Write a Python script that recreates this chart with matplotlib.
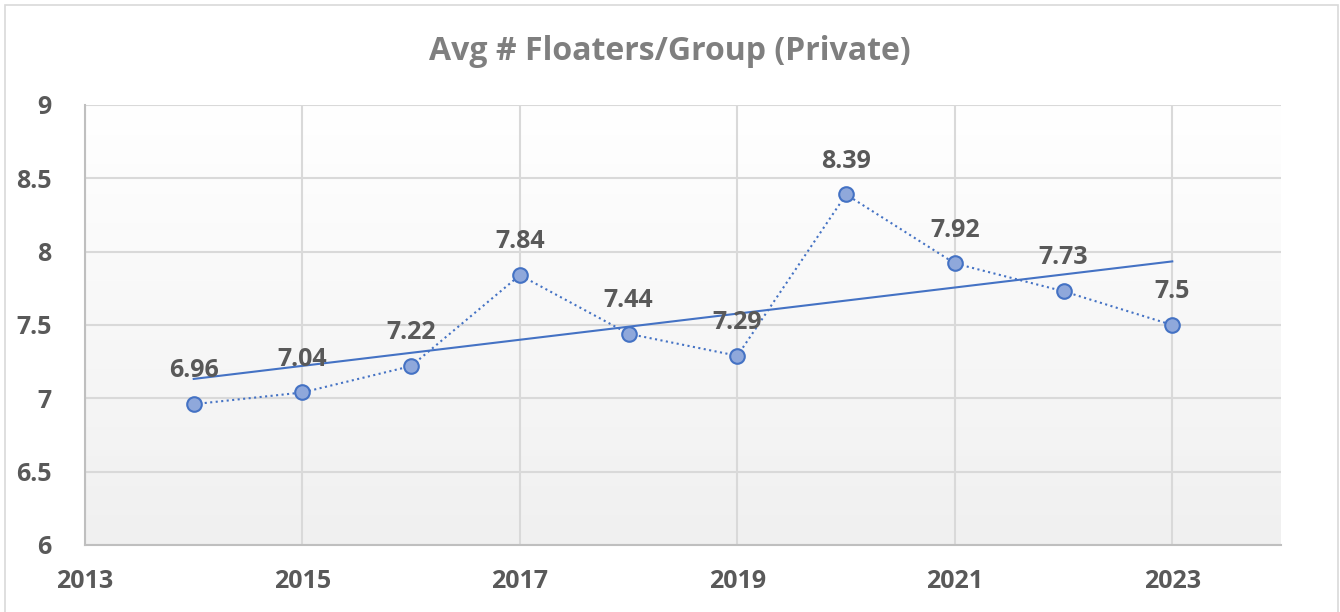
import numpy as np
import matplotlib.pyplot as plt
from matplotlib.patches import Rectangle

plt.rcParams['font.family'] = ['Open Sans', 'DejaVu Sans']

years = [2014, 2015, 2016, 2017, 2018, 2019, 2020, 2021, 2022, 2023]
floaters = [6.96, 7.04, 7.22, 7.84, 7.44, 7.29, 8.39, 7.92, 7.73, 7.50]
labels = ["6.96", "7.04", "7.22", "7.84", "7.44", "7.29", "8.39", "7.92", "7.73", "7.5"]
x_ticks = [2013, 2015, 2017, 2019, 2021, 2023]
y_ticks = [6, 6.5, 7, 7.5, 8, 8.5, 9]

blue = "#4472c4"
text_grey = "#595959"
grid_grey = "#d9d9d9"

fig = plt.figure(figsize=(13.4, 6.12), dpi=100)
ax = fig.add_axes([85 / 1340, 1 - 545 / 612, (1281 - 85) / 1340, (545 - 105) / 612])

# outer chart frame
fig.patches.append(Rectangle((5 / 1340, -0.01), 1333 / 1340, 1 - 5 / 612 + 0.01,
                             transform=fig.transFigure, fill=False,
                             edgecolor="#d9d9d9", linewidth=1.2))

# gradient plot-area background
grad = np.linspace(1, 0, 256).reshape(-1, 1)
ax.imshow(grad, extent=[2013, 2024, 6, 9], aspect="auto", origin="upper",
          cmap=plt.matplotlib.colors.LinearSegmentedColormap.from_list(
              "bg", ["#f0f0f0", "#ffffff"]),
          vmin=0, vmax=1, zorder=0)

ax.plot(years, floaters, linestyle=":", color=blue, linewidth=1.5, zorder=3,
        marker="o", markersize=10.5, markerfacecolor="#8fa8db",
        markeredgecolor=blue, markeredgewidth=1.5)

# linear trendline
k, b = np.polyfit(years, floaters, 1)
tx = np.array([years[0], years[-1]])
ax.plot(tx, k * tx + b, color=blue, linewidth=1.5, zorder=2)

for x, y, s in zip(years, floaters, labels):
    ax.annotate(s, (x, y), xytext=(0, 15), textcoords="offset points",
                ha="center", va="bottom", fontsize=18, fontweight="bold",
                color=text_grey, zorder=4)

ax.set_xlim(2013, 2024)
ax.set_ylim(6, 9)
ax.set_xticks(x_ticks)
ax.set_yticks(y_ticks)
ax.set_yticklabels([f"{v:g}" for v in y_ticks])
ax.tick_params(length=0, labelsize=18, labelcolor=text_grey)
ax.tick_params(axis="x", pad=17)
ax.tick_params(axis="y", pad=24)
for lab in ax.get_xticklabels() + ax.get_yticklabels():
    lab.set_fontweight("bold")

ax.grid(True, color=grid_grey, linewidth=1.5, zorder=1)
ax.set_axisbelow(True)
for side in ["top", "right"]:
    ax.spines[side].set_visible(False)
for side in ["left", "bottom"]:
    ax.spines[side].set_color("#bfbfbf")
    ax.spines[side].set_linewidth(1.5)

fig.text(0.5, 1 - 52 / 612, "Avg # Floaters/Group (Private)", ha="center", va="center",
         fontsize=23, fontweight="bold", color="#7f7f7f")

fig.savefig("out.png", dpi=100)
